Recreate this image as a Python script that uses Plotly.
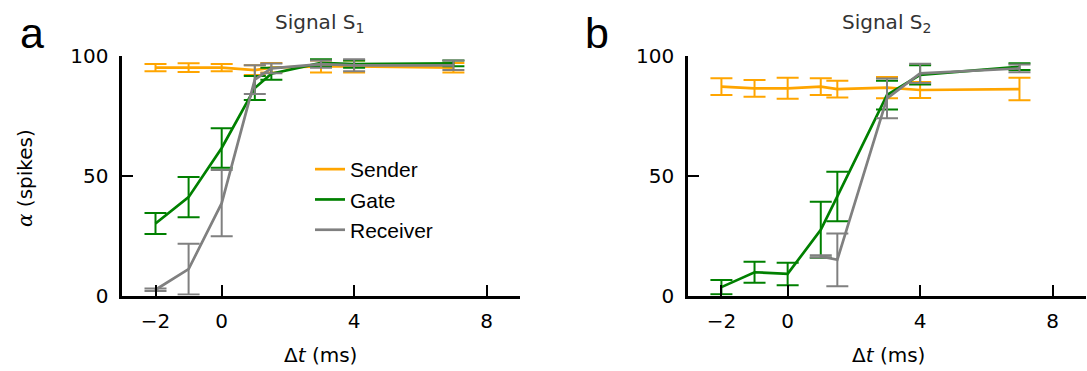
import plotly.graph_objects as go

# ---------------- data ----------------
dt = [-2, -1, 0, 1, 1.5, 3, 4, 7]

# Panel a (Signal S1)
a_sender = [95, 95, 95, 94, 95, 95.5, 95.5, 95]
a_sender_err = [1.5, 1.8, 1.5, 2.0, 2.0, 2.5, 2.5, 2.0]
a_gate = [30, 41, 61.5, 86.5, 92.5, 97, 96.5, 96.8]
a_gate_err = [4.4, 8.4, 8.2, 5.0, 2.5, 1.5, 1.5, 1.2]
a_recv = [2.4, 11, 38.5, 90, 94.7, 96.5, 96, 96]
a_recv_err = [0.5, 10.6, 13.8, 6.0, 2.0, 1.5, 2.5, 2.0]

# Panel b (Signal S2)
b_sender = [87.1, 86.4, 86.4, 87.1, 86.1, 86.7, 85.7, 86.1]
b_sender_err = [3.5, 3.5, 4.4, 3.5, 3.5, 4.4, 3.3, 4.7]
b_gate = [3.5, 9.7, 9.0, 27.4, 41.3, 83.6, 92, 95.4]
b_gate_err = [3.0, 4.4, 4.7, 11.7, 10.3, 6.0, 4.0, 1.4]
dt_recv_b = [1, 1.5, 3, 4, 7]
b_recv = [16.3, 14.9, 82.2, 92.6, 94.7]
b_recv_err = [0.5, 11.0, 8.3, 4.0, 1.6]

series_names = ["Sender", "Gate", "Receiver"]
colors = ["#FFA500", "#008000", "#808080"]

x_ticks = [-2, 0, 4, 8]
x_ticktext = ["\u22122", "0", "4", "8"]
y_ticks = [0, 50, 100]
y_ticktext = ["0", "50", "100"]

titles = ["Signal S<sub>1</sub>", "Signal S<sub>2</sub>"]
panel_letters = ["a", "b"]

# ---------------- figure ----------------
W, H = 1087, 371
def fx(p):
    return p / W
def fy(p):
    return 1 - p / H

fig = go.Figure()

panels = [
    ("x", "y", [(dt, a_sender, a_sender_err), (dt, a_gate, a_gate_err), (dt, a_recv, a_recv_err)]),
    ("x2", "y2", [(dt, b_sender, b_sender_err), (dt, b_gate, b_gate_err), (dt_recv_b, b_recv, b_recv_err)]),
]

for pi, (xa, ya, sers) in enumerate(panels):
    for si, (xs, ys, es) in enumerate(sers):
        fig.add_trace(go.Scatter(
            x=xs, y=ys, xaxis=xa, yaxis=ya, mode="lines",
            name=series_names[si],
            showlegend=(pi == 0),
            line=dict(color=colors[si], width=2.7),
            error_y=dict(type="data", array=es, visible=True,
                         color=colors[si], thickness=2, width=11),
        ))

xdom = [[fx(122.4), fx(519.6)], [fx(688.3), fx(1085.7)]]
ydom = [fy(295.5), fy(55.7)]

axis_common = dict(showgrid=False, zeroline=False, showline=True, linecolor="black",
                   linewidth=3, ticks="inside", ticklen=11, tickwidth=2, tickcolor="black",
                   automargin=False,
                   tickfont=dict(family="DejaVu Sans", size=20, color="black"))

fig.update_layout(
    xaxis=dict(domain=xdom[0], range=[-3, 9], tickvals=x_ticks, ticktext=x_ticktext,
               anchor="y", ticklabelstandoff=5, **axis_common),
    yaxis=dict(domain=ydom, range=[0, 100], tickvals=y_ticks, ticktext=y_ticktext,
               anchor="x", ticklabelstandoff=7, **axis_common),
    xaxis2=dict(domain=xdom[1], range=[-3, 9], tickvals=x_ticks, ticktext=x_ticktext,
                anchor="y2", ticklabelstandoff=5, **axis_common),
    yaxis2=dict(domain=ydom, range=[0, 100], tickvals=y_ticks, ticktext=y_ticktext,
                anchor="x2", ticklabelstandoff=7, **axis_common),
)

ann = []
# panel letters
for lx, letter in zip([18, 583], panel_letters):
    ann.append(dict(text=letter, x=fx(lx), y=fy(33), xref="paper", yref="paper", xanchor="left",
                    yanchor="middle", showarrow=False,
                    font=dict(family="Liberation Sans", size=43, color="black")))
# titles
for cx, t in zip([319.5, 886.0], titles):
    ann.append(dict(text=t, x=fx(cx), y=fy(23), xref="paper", yref="paper", xanchor="center",
                    yanchor="middle", showarrow=False,
                    font=dict(family="DejaVu Sans", size=20, color="#333333")))
# x labels
for cx in [320.5, 888.0]:
    ann.append(dict(text="\u0394<i>t</i> (ms)", x=fx(cx), y=fy(355), xref="paper", yref="paper",
                    xanchor="center", yanchor="middle", showarrow=False,
                    font=dict(family="DejaVu Sans", size=20, color="black")))
# y label
ann.append(dict(text="<span style='font-family:DejaVu Serif'><i>\u03b1</i></span> (spikes)",
                x=fx(25), y=fy(178), xref="paper", yref="paper",
                xanchor="center", yanchor="middle", showarrow=False, textangle=-90,
                font=dict(family="DejaVu Sans", size=20, color="black")))

fig.update_layout(
    width=W, height=H, margin=dict(l=0, r=0, t=0, b=0, autoexpand=False),
    paper_bgcolor="white", plot_bgcolor="white",
    annotations=ann,
    showlegend=True,
    legend=dict(x=fx(310), y=fy(149), xanchor="left", yanchor="top",
                bgcolor="rgba(0,0,0,0)", borderwidth=0, itemwidth=30, tracegroupgap=0,
                font=dict(family="Liberation Sans", size=21, color="black")),
)

fig.write_html("out.html", config={"displayModeBar": False},
               post_script="document.body.style.margin='0px';document.body.style.overflow='hidden';")
